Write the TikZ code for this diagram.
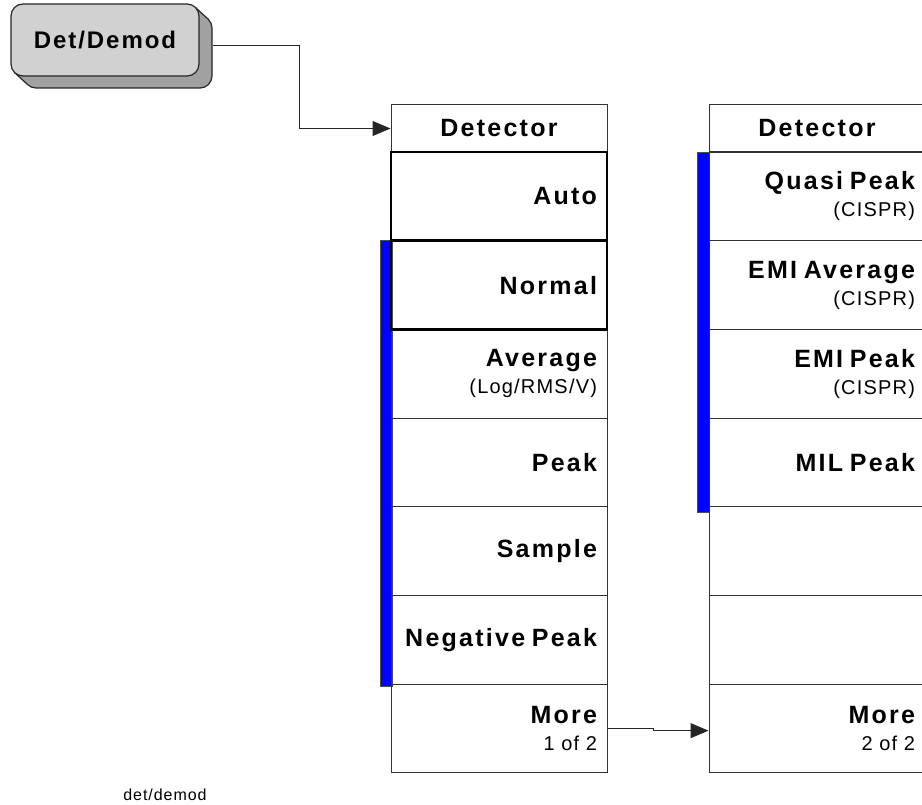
\documentclass[tikz,border=0pt]{standalone}
\usepackage{fontspec}
\setmainfont{Liberation Sans}
\newfontfamily\keyfont[LetterSpace=9]{Liberation Sans}
\newfontfamily\btnfont[LetterSpace=8]{Liberation Sans}
\newfontfamily\subfont[LetterSpace=6]{Liberation Sans}
\newfontfamily\capfont[LetterSpace=6]{Liberation Sans}
\usetikzlibrary{arrows.meta}
\newcommand{\kb}[1]{{\keyfont\bfseries\fontsize{25}{28}\selectfont #1}}
\newcommand{\ks}[1]{{\subfont\fontsize{20}{28}\selectfont #1}}
\tikzset{
  hdr/.style={draw=black!80, line width=1pt, minimum width=216pt, minimum height=47pt, inner sep=0pt,
    font=\keyfont\bfseries\fontsize{25}{28}\selectfont},
  softkey/.style={draw=black!80, line width=1pt, minimum width=216pt, minimum height=88.7pt,
    text width=196pt, inner xsep=10pt, inner ysep=0pt, align=right, font=\fontsize{20}{27}\selectfont},
  activekey/.style={draw=black, line width=2.5pt},
  bluebar/.style={fill=blue, draw=black!70, line width=0.8pt},
  conn/.style={draw=black!85, line width=1pt},
  tip/.style={-{Triangle[length=18pt,width=15pt]}},
  shadowfill/.style={fill=black!37},
  outline/.style={draw=black!85, line width=1.2pt}
}
\begin{document}
\begin{tikzpicture}[x=1pt,y=-1pt]
\useasboundingbox (0,0) rectangle (922,805);
\clip (0,0) rectangle (922,805);

% Det/Demod hard key
\filldraw[shadowfill, outline, rounded corners=12pt] (24,16) rectangle (212,88);
\fill[shadowfill] (195.5,7.5) -- (208.5,19.5) -- (27.5,84.5) -- (14.5,72.5) -- cycle;
\draw[outline] (195.5,7.5) -- (208.5,19.5);
\draw[outline] (14.5,72.5) -- (27.5,84.5);
\node[outline, fill=black!18, rounded corners=12pt, minimum width=188pt, minimum height=72pt,
  inner sep=0pt, font=\btnfont\bfseries\fontsize{24}{28}\selectfont] (demod) at (105,40) {Det/Demod};
\coordinate (dstart) at (213,46);

% blue bars
\draw[bluebar] (380,240) rectangle (392,686);
\draw[bluebar] (697,152) rectangle (709,512);

% left menu
\node[hdr] (lhdr) at (499,128.5) {Detector};
\node[softkey] (lavg) at (499,373.79) {\kb{Average}\\\ks{(Log/RMS/V)}};
\node[softkey] (lpeak) at (499,462.50) {\kb{Peak}};
\node[softkey] (lsample) at (499,551.21) {\kb{Sample}};
\node[softkey] (lneg) at (499,639.93) {\kb{Negative Peak}};
\node[softkey] (lmore) at (499,728.64) {\kb{More}\\\ks{1 of 2}};
\node[softkey, activekey] (lauto) at (499,196.36) {\kb{Auto}};
\node[softkey, activekey] (lnormal) at (499,285.07) {\kb{Normal}};

% right menu
\node[hdr] (rhdr) at (817,128.5) {Detector};
\node[softkey] (rqp) at (817,196.36) {\kb{Quasi Peak}\\\ks{(CISPR)}};
\node[softkey] (remiavg) at (817,285.07) {\kb{EMI Average}\\\ks{(CISPR)}};
\node[softkey] (remipk) at (817,373.79) {\kb{EMI Peak}\\\ks{(CISPR)}};
\node[softkey] (rmil) at (817,462.50) {\kb{MIL Peak}};
\node[softkey] (rblank1) at (817,551.21) {};
\node[softkey] (rblank2) at (817,639.93) {};
\node[softkey] (rmore) at (817,728.64) {\kb{More}\\\ks{2 of 2}};

% connectors
\draw[conn, tip] (dstart) -- (299,46) |- (lhdr.west);
\draw[conn, tip] (lmore.east) -- ++(46,0) -- ++(0,2) -- ([yshift=-2pt]rmore.west);

% caption
\node[font=\capfont\fontsize{16}{19}\selectfont, inner sep=0pt] (cap) at (165,795) {det/demod};
\end{tikzpicture}
\end{document}
